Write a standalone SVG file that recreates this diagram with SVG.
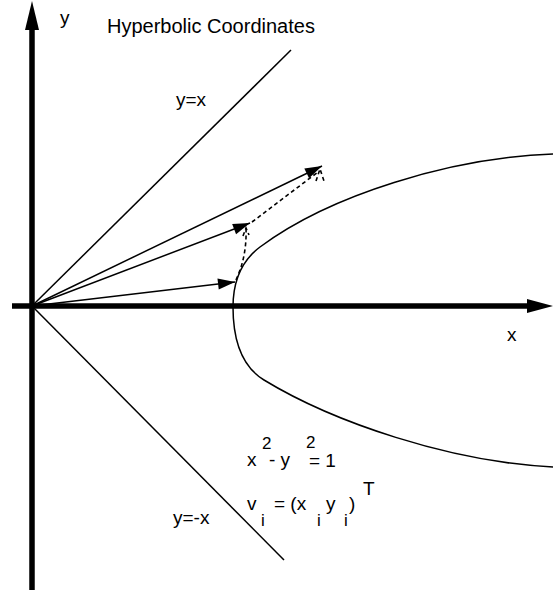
<svg xmlns="http://www.w3.org/2000/svg" width="553" height="595" viewBox="0 0 553 595">
<style>
text{font-family:"Liberation Sans",Arial,sans-serif;fill:#000;font-size:19px}
.title{font-size:20px}
.sup{font-size:17px}
.thin{stroke:#000;stroke-width:1.5;fill:none}
.dash{stroke:#000;stroke-width:1.6;fill:none;stroke-dasharray:4,3}
.axis{stroke:#000;stroke-width:5.5;fill:none}
</style>
<defs>
<marker id="ah" markerUnits="userSpaceOnUse" markerWidth="20" markerHeight="14" viewBox="-18 -7 20 14" refX="0" refY="0" orient="auto">
<path d="M0,0 L-17,-5.5 L-17,5.5 z" fill="#000"/>
</marker>
</defs>
<g id="axes">
<line class="axis" x1="32" y1="590" x2="32" y2="28"/>
<path d="M32,1 L25,30 L39,30 z" fill="#000"/>
<line class="axis" x1="12" y1="306" x2="528" y2="306"/>
<path d="M553,306 L527,299 L527,313 z" fill="#000"/>
</g>
<g id="asymptotes">
<line class="thin" x1="32" y1="306" x2="291" y2="50"/>
<line class="thin" x1="32" y1="306" x2="284" y2="560"/>
</g>
<g id="hyperbola">
<path class="thin" d="M233,307 C233,285 240,262 260,247 C330,195 450,158 553,154"/>
<path class="thin" d="M233,307 C233,340 241,366 264,380 C333,422 450,462 553,467"/>
</g>
<g id="connectors">
<line class="thin" x1="32" y1="306" x2="235" y2="282" marker-end="url(#ah)"/>
<line class="thin" x1="32" y1="306" x2="250" y2="223" marker-end="url(#ah)"/>
<line class="thin" x1="32" y1="306" x2="322" y2="166" marker-end="url(#ah)"/>
<path class="dash" d="M236,280 Q247,256 246,229"/>
<path class="dash" d="M243,236 L246,228 L249,235"/>
<path class="dash" d="M252,222 L318,172"/>
<path class="dash" d="M316,181 L320,169 L324,181"/>
</g>
<g id="labels">
<text x="60" y="24">y</text>
<text class="title" x="107" y="33">Hyperbolic Coordinates</text>
<text x="176" y="106">y=x</text>
<text x="507" y="341">x</text>
<text x="173" y="524">y=-x</text>
<text x="247" y="466">x<tspan class="sup" x="262" y="449">2</tspan><tspan x="269" y="466">- y</tspan><tspan class="sup" x="306" y="448">2</tspan><tspan x="309" y="467">= 1</tspan></text>
<text x="247" y="510">v<tspan class="sup" x="261" y="526">i</tspan><tspan x="274" y="510">= (x</tspan><tspan class="sup" x="317" y="526">i</tspan><tspan x="326" y="510">y</tspan><tspan class="sup" x="344" y="526">i</tspan><tspan x="349" y="510">)</tspan><tspan x="363" y="495">T</tspan></text>
</g>
</svg>
